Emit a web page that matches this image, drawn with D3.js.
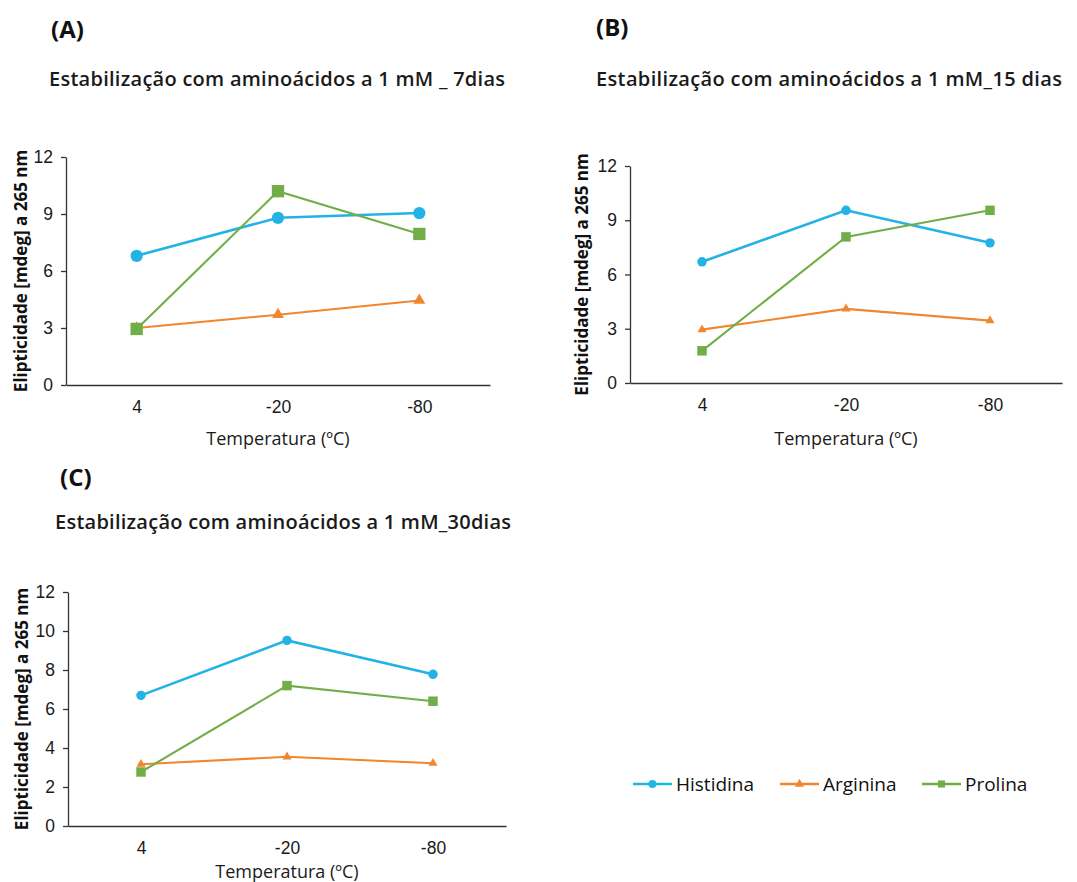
<!DOCTYPE html>
<html>
<head>
<meta charset="utf-8">
<script src="https://cdn.jsdelivr.net/npm/d3@7"></script>
<style>
  body { margin: 0; background: #fff; }
  svg { font-family: "Open Sans", "DejaVu Sans", sans-serif; }
</style>
</head>
<body>
<script>
// categories + series
var temps = ["4", "-20", "-80"];
var seriesNames = ["Histidina", "Arginina", "Prolina"];
var seriesColors = ["#22b2e6", "#f2862e", "#72ae48"];

// panel A - 7 dias
var histA = [6.8, 8.8, 9.05];
var argA = [3.0, 3.7, 4.45];
var proA = [2.95, 10.2, 7.95];
// panel B - 15 dias
var histB = [6.7, 9.55, 7.75];
var argB = [2.95, 4.1, 3.45];
var proB = [1.78, 8.08, 9.55];
// panel C - 30 dias
var histC = [6.7, 9.52, 7.78];
var argC = [3.17, 3.55, 3.22];
var proC = [2.77, 7.2, 6.4];

var ticksAB = [0, 3, 6, 9, 12];
var ticksC = [0, 2, 4, 6, 8, 10, 12];

var titles = [
  "Estabilização com aminoácidos a 1 mM _ 7dias",
  "Estabilização com aminoácidos a 1 mM_15 dias",
  "Estabilização com aminoácidos a 1 mM_30dias"
];
var panelLetters = ["(A)", "(B)", "(C)"];
var yTitle = "Elipticidade [mdeg] a 265 nm";
var xTitle = "Temperatura (ºC)";

var W = 1077, H = 882;
var svg = d3.select("body").append("svg").attr("width", W).attr("height", H);

var panels = [
  {data: [histA, argA, proA], ticks: ticksAB, x0: 66, x1: 490, y0: 385, y1: 157,
   title: titles[0], letter: panelLetters[0], lx: 51, ly: 38, tx: 49, ty: 86, tw: 456, ytx: 21, xty: 445, big: true},
  {data: [histB, argB, proB], ticks: ticksAB, x0: 630, x1: 1062, y0: 383, y1: 166,
   title: titles[1], letter: panelLetters[1], lx: 596, ly: 36, tx: 596, ty: 86, tw: 466, ytx: 582, xty: 445, big: false},
  {data: [histC, argC, proC], ticks: ticksC, x0: 68, x1: 506, y0: 826, y1: 592,
   title: titles[2], letter: panelLetters[2], lx: 60, ly: 486, tx: 55, ty: 529, tw: 456, ytx: 22, xty: 878, big: false}
];

panels.forEach(function(p) {
  var g = svg.append("g");
  var x = d3.scalePoint().domain(temps).range([p.x0, p.x1]).padding(0.5);
  var y = d3.scaleLinear().domain([0, 12]).range([p.y0, p.y1]);

  g.append("text").attr("x", p.lx).attr("y", p.ly)
    .attr("font-size", 24).attr("font-weight", 700).attr("fill", "#111")
    .text(p.letter);
  g.append("text").attr("x", p.tx).attr("y", p.ty)
    .attr("font-size", 20).attr("font-weight", 600).attr("fill", "#1a1a1a")
    .attr("textLength", p.tw).attr("lengthAdjust", "spacing")
    .text(p.title);

  var ya = g.append("g").attr("transform", "translate(" + p.x0 + ",0)")
    .call(d3.axisLeft(y).tickValues(p.ticks).tickSize(5).tickSizeOuter(0).tickPadding(8));
  ya.select(".domain").attr("stroke", "#333").attr("stroke-width", 1.3);
  ya.selectAll(".tick line").attr("stroke", "#333").attr("stroke-width", 1.3);
  ya.selectAll(".tick text").attr("font-size", 17.5).attr("fill", "#1a1a1a");

  var xa = g.append("g").attr("transform", "translate(0," + p.y0 + ")")
    .call(d3.axisBottom(x).tickSize(0).tickPadding(16));
  xa.select(".domain").attr("stroke", "#333").attr("stroke-width", 1.3);
  xa.selectAll(".tick text").attr("font-size", 17.5).attr("fill", "#1a1a1a");

  g.append("text")
    .attr("transform", "translate(" + p.ytx + "," + ((p.y0 + p.y1) / 2) + ") rotate(-90)")
    .attr("text-anchor", "middle").attr("dy", "0.35em")
    .attr("font-size", 17).attr("font-weight", 700).attr("fill", "#111")
    .text(yTitle);
  g.append("text")
    .attr("x", (p.x0 + p.x1) / 2).attr("y", p.xty)
    .attr("text-anchor", "middle")
    .attr("font-size", 18).attr("fill", "#1a1a1a")
    .text(xTitle);

  var line = d3.line().x(function(d, i) { return x(temps[i]); }).y(function(d) { return y(d); });
  var sc = p.big ? 1.3 : 1;

  p.data.forEach(function(vals, si) {
    g.append("path").datum(vals).attr("d", line)
      .attr("fill", "none").attr("stroke", seriesColors[si])
      .attr("stroke-width", si === 0 ? 2.6 : 2.1);
    var sym = [d3.symbolCircle, d3.symbolTriangle, d3.symbolSquare][si];
    var size = [70, 36, 90][si] * sc * sc;
    g.selectAll(".m" + si).data(vals).enter().append("path")
      .attr("transform", function(d, i) { return "translate(" + x(temps[i]) + "," + y(d) + ")"; })
      .attr("d", d3.symbol().type(sym).size(size))
      .attr("fill", seriesColors[si]);
  });
});

// legend
var leg = svg.append("g").attr("transform", "translate(633,784)");
var legX = [0, 147, 289];
seriesNames.forEach(function(name, si) {
  var lg = leg.append("g").attr("transform", "translate(" + legX[si] + ",0)");
  lg.append("line").attr("x1", 0).attr("x2", 39).attr("y1", 0).attr("y2", 0)
    .attr("stroke", seriesColors[si]).attr("stroke-width", 2.5);
  var sym = [d3.symbolCircle, d3.symbolTriangle, d3.symbolSquare][si];
  lg.append("path").attr("transform", "translate(19.5,0)")
    .attr("d", d3.symbol().type(sym).size(si === 1 ? 36 : 50)).attr("fill", seriesColors[si]);
  lg.append("text").attr("x", 43).attr("y", 0).attr("dy", "0.35em")
    .attr("font-size", 19).attr("fill", "#111").text(name);
});
</script>
</body>
</html>
